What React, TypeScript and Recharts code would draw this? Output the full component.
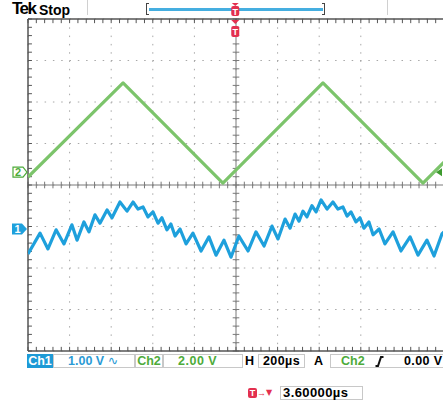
import { LineChart, Line, XAxis, YAxis, CartesianGrid, ReferenceLine, ReferenceDot } from "recharts";

// time in µs relative to screen centre, 200 µs/div
const T_BLUE = [
  -1000, -942, -904, -865, -827, -789, -764, -731, -707, -678, -654, -620, -596, -558, -524, -495,
  -471, -447, -423, -399, -375, -356, -332, -313, -293, -269, -240, -207, -168, -130, -96, -58, -24,
  14, 58, 96, 135, 173, 202, 236, 260, 284, 303, 322, 341, 365, 385, 409, 438, 466,
  490, 514, 534, 553, 577, 596, 615, 639, 659, 688, 716, 755, 793, 837, 875, 918, 952, 990, 1000,
];
// Ch1 volts (1 V/div)
const V_BLUE = [
  -0.6, -0.1, -0.48, -0.02, -0.36, 0.1, -0.27, 0.17, -0.07, 0.34, 0.14, 0.46, 0.27, 0.65, 0.43, 0.65,
  0.48, 0.53, 0.29, 0.41, 0.14, 0.27, -0.02, 0.12, -0.17, 0.0, -0.36, -0.1, -0.53, -0.19, -0.63, -0.27, -0.68,
  -0.17, -0.53, -0.07, -0.41, 0.07, -0.24, 0.24, 0.02, 0.36, 0.19, 0.43, 0.29, 0.56, 0.41, 0.7, 0.48, 0.65,
  0.48, 0.53, 0.31, 0.41, 0.17, 0.27, 0.02, 0.17, -0.14, 0.0, -0.36, -0.07, -0.53, -0.19, -0.63, -0.27, -0.65, -0.12, -0.07,
];
const T_GREEN = [-1000, -543, -63, 418, 899, 1000];
// Ch2 volts (2 V/div)
const V_GREEN = [-0.24, 4.3, -0.53, 4.3, -0.53, 0.48];

const CH1_POS = -1.06; // divisions
const CH2_POS = 0.31;
const CH1_SCALE = 1;
const CH2_SCALE = 2;
const TRIG_T = -3.6;
const TRIG_LEVEL = 0;

const MAJOR_T = [-1000, -800, -600, -400, -200, 0, 200, 400, 600, 800, 1000];
const MAJOR_V = [-4, -3, -2, -1, 0, 1, 2, 3, 4];

const minorT: number[] = [];
for (let t = -1000; t <= 1000; t += 40) minorT.push(t);
const minorV: number[] = [];
for (let i = -20; i <= 20; i++) minorV.push(i / 5);

const blueData = T_BLUE.map((t, i) => ({ t, v: V_BLUE[i] }));
const greenData = T_GREEN.map((t, i) => ({ t, v: V_GREEN[i] }));

const BLUE = "#1ea0dc";
const GREEN = "#7cc46b";
const GREEN_TXT = "#4dab3a";
const RED = "#e3304f";
const GRID = "#a8a8a8";
const AXIS = "#7a7a7a";
const BORDER = "#555";

const font = '"Liberation Sans", Arial, "DejaVu Sans", sans-serif';

const box = (left: number, width: number, extra: any = {}): any => ({
  position: "absolute",
  left,
  top: 354,
  width,
  height: 14,
  boxSizing: "border-box",
  border: "1px solid #c8c8c8",
  lineHeight: "12px",
  fontSize: 12.5,
  fontWeight: 700,
  whiteSpace: "nowrap",
  ...extra,
});

export default function App() {
  return (
    <div style={{ position: "relative", width: 443, height: 405, overflow: "hidden", background: "#fff", fontFamily: font }}>
      <style>{`body{margin:0}`}</style>

      {/* header */}
      <div style={{ position: "absolute", left: 12, top: 0, fontSize: 17, lineHeight: "17px", fontWeight: 900, letterSpacing: -1.5 }}>Tek</div>
      <div style={{ position: "absolute", left: 39, top: 3, fontSize: 14, lineHeight: "14px", fontWeight: 700 }}>Stop</div>
      <div style={{ position: "absolute", left: 87, top: 0, width: 1, height: 15, background: "#d0d0d0" }} />
      <div style={{ position: "absolute", left: 387, top: 0, width: 1, height: 15, background: "#d0d0d0" }} />
      <div style={{ position: "absolute", left: 146, top: 3, width: 3, height: 12, boxSizing: "border-box", borderLeft: "1.5px solid #444", borderTop: "1.5px solid #444", borderBottom: "1.5px solid #444" }} />
      <div style={{ position: "absolute", left: 322, top: 3, width: 3, height: 12, boxSizing: "border-box", borderRight: "1.5px solid #444", borderTop: "1.5px solid #444", borderBottom: "1.5px solid #444" }} />
      <div style={{ position: "absolute", left: 149, top: 8, width: 174, height: 3, background: "#45aee0" }} />

      <LineChart
        width={446}
        height={360}
        margin={{ top: 19, right: 2, bottom: 9, left: 28 }}
        style={{ position: "absolute", left: 0, top: 0, overflow: "visible" }}
      >
        <XAxis dataKey="t" type="number" domain={[-1000, 1000]} ticks={MAJOR_T} allowDataOverflow hide />
        <YAxis type="number" domain={[-4, 4]} ticks={MAJOR_V} allowDataOverflow hide />
        <YAxis yAxisId="ch1" type="number" domain={[(-4 - CH1_POS) * CH1_SCALE, (4 - CH1_POS) * CH1_SCALE]} allowDataOverflow hide />
        <YAxis yAxisId="ch2" type="number" domain={[(-4 - CH2_POS) * CH2_SCALE, (4 - CH2_POS) * CH2_SCALE]} allowDataOverflow hide />
        <CartesianGrid stroke={GRID} strokeDasharray="1.5 6.8" />

        <ReferenceLine x={0} stroke={AXIS} strokeWidth={1} />
        <ReferenceLine y={0} stroke={AXIS} strokeWidth={1} />
        {minorT.map((t) => (
          <ReferenceLine key={"hc" + t} segment={[{ x: t, y: -0.08 }, { x: t, y: 0.08 }]} stroke={AXIS} />
        ))}
        {minorV.map((v) => (
          <ReferenceLine key={"vc" + v} segment={[{ x: -16, y: v }, { x: 16, y: v }]} stroke={AXIS} />
        ))}
        {minorT.map((t) => (
          <ReferenceLine key={"tb" + t} segment={[{ x: t, y: 4 }, { x: t, y: 3.9 }]} stroke={BORDER} />
        ))}
        {minorT.map((t) => (
          <ReferenceLine key={"bb" + t} segment={[{ x: t, y: -4 }, { x: t, y: -3.9 }]} stroke={BORDER} />
        ))}
        {minorV.map((v) => (
          <ReferenceLine key={"lb" + v} segment={[{ x: -1000, y: v }, { x: -981, y: v }]} stroke={BORDER} />
        ))}
        <ReferenceLine x={-1000} stroke={BORDER} strokeWidth={1.5} />
        <ReferenceLine x={1000} stroke={BORDER} strokeWidth={1.5} />
        <ReferenceLine y={4} stroke={BORDER} strokeWidth={1.5} />
        <ReferenceLine y={-4} stroke={BORDER} strokeWidth={1.5} />

        <Line data={greenData} yAxisId="ch2" dataKey="v" type="linear" stroke={GREEN} strokeWidth={3.2} dot={false} strokeLinejoin="round" isAnimationActive={false} />
        <Line data={blueData} yAxisId="ch1" dataKey="v" type="linear" stroke={BLUE} strokeWidth={3.2} dot={false} strokeLinejoin="round" isAnimationActive={false} />

        {/* ground markers */}
        <ReferenceDot
          x={-1000}
          y={0}
          yAxisId="ch2"
          ifOverflow="visible"
          shape={(p: any) => (
            <g>
              <path d={`M${p.cx - 15},${p.cy - 5} L${p.cx - 5},${p.cy - 5} L${p.cx - 1},${p.cy} L${p.cx - 5},${p.cy + 5} L${p.cx - 15},${p.cy + 5} Z`} fill="#fff" stroke={GREEN_TXT} strokeWidth={1.2} />
              <text x={p.cx - 10} y={p.cy + 4} textAnchor="middle" fontSize={11} fontWeight={700} fill={GREEN_TXT} fontFamily={font}>2</text>
            </g>
          )}
        />
        <ReferenceDot
          x={-1000}
          y={0}
          yAxisId="ch1"
          ifOverflow="visible"
          shape={(p: any) => (
            <g>
              <path d={`M${p.cx - 16},${p.cy - 5.5} L${p.cx - 6},${p.cy - 5.5} L${p.cx - 1},${p.cy} L${p.cx - 6},${p.cy + 5.5} L${p.cx - 16},${p.cy + 5.5} Z`} fill={BLUE} />
              <text x={p.cx - 10.5} y={p.cy + 4} textAnchor="middle" fontSize={11} fontWeight={700} fill="#fff" fontFamily={font}>1</text>
            </g>
          )}
        />
        <ReferenceDot
          x={1000}
          y={TRIG_LEVEL}
          yAxisId="ch2"
          ifOverflow="visible"
          shape={(p: any) => (
            <path d={`M${p.cx - 8},${p.cy} L${p.cx - 2},${p.cy - 4} L${p.cx - 2},${p.cy + 4} Z`} fill="#3d9a2e" />
          )}
        />
        {/* trigger position markers */}
        <ReferenceDot
          x={TRIG_T}
          y={4}
          ifOverflow="visible"
          shape={(p: any) => (
            <g>
              <path d={`M${p.cx - 3.5},${p.cy - 16} L${p.cx + 3.5},${p.cy - 16} L${p.cx},${p.cy - 13} Z`} fill={RED} />
              <rect x={p.cx - 4} y={p.cy - 13} width={8} height={10} rx={2} fill={RED} />
              <text x={p.cx} y={p.cy - 4.5} textAnchor="middle" fontSize={9} fontWeight={700} fill="#fff" fontFamily={font}>T</text>
              <path d={`M${p.cx - 4},${p.cy + 1} L${p.cx + 4},${p.cy + 1} L${p.cx},${p.cy + 5} Z`} fill={RED} />
              <rect x={p.cx - 4} y={p.cy + 7} width={8} height={11} rx={2} fill={RED} />
              <text x={p.cx} y={p.cy + 16} textAnchor="middle" fontSize={9} fontWeight={700} fill="#fff" fontFamily={font}>T</text>
            </g>
          )}
        />
      </LineChart>

      {/* readout row 1 */}
      <div style={box(27, 26, { background: "#1d9ad6", border: "1px solid #1d9ad6", color: "#fff", textAlign: "center" })}>Ch1</div>
      <div style={box(53, 82, { color: "#2a9ad5", paddingLeft: 14 })}>1.00 V <span style={{ fontFamily: '"DejaVu Sans", sans-serif', fontWeight: 400 }}>∿</span></div>
      <div style={box(135, 28, { color: GREEN_TXT, textAlign: "center" })}>Ch2</div>
      <div style={box(163, 80, { color: GREEN_TXT, paddingLeft: 14, letterSpacing: 0.5 })}>2.00 V</div>
      <div style={box(245, 12, { border: "none", top: 355 })}>H</div>
      <div style={box(258, 47, { paddingLeft: 4, letterSpacing: 0.4 })}>200µs</div>
      <div style={box(314, 12, { border: "none", top: 355 })}>A</div>
      <div style={box(330, 120, {})}>
        <span style={{ position: "absolute", left: 10, color: GREEN_TXT }}>Ch2</span>
        <svg style={{ position: "absolute", left: 44, top: 1 }} width={9} height={11}>
          <path d="M0.5,10 L3,10 L6,1 L8.5,1" stroke="#111" strokeWidth={2} fill="none" />
        </svg>
        <span style={{ position: "absolute", left: 73, letterSpacing: 0.4 }}>0.00 V</span>
      </div>

      {/* readout row 2 */}
      <div style={{ position: "absolute", left: 248, top: 388, width: 9, height: 10, background: RED, borderRadius: 2, color: "#fff", fontSize: 9, fontWeight: 700, lineHeight: "10px", textAlign: "center" }}>T</div>
      <div style={{ position: "absolute", left: 257, top: 386, fontSize: 9, lineHeight: "14px", color: RED, fontWeight: 700 }}>→</div>
      <div style={{ position: "absolute", left: 266, top: 386, fontSize: 8, lineHeight: "14px", color: RED, fontFamily: '"DejaVu Sans", sans-serif' }}>▼</div>
      <div style={box(280, 83, { top: 386, paddingLeft: 2, fontSize: 13, letterSpacing: 0.4 })}>3.60000µs</div>
    </div>
  );
}
